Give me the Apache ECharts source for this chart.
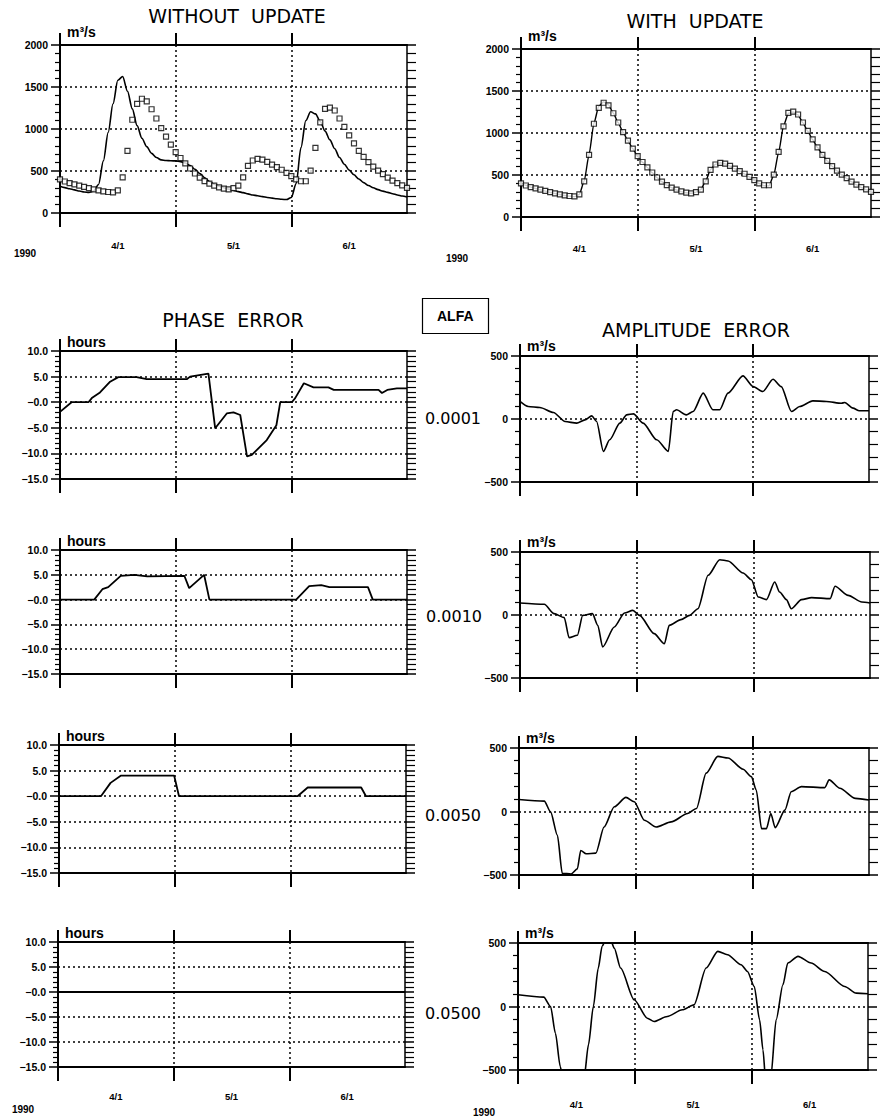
<!DOCTYPE html>
<html><head><meta charset="utf-8">
<script src="https://cdn.jsdelivr.net/npm/echarts@6/dist/echarts.min.js"></script>
<style>html,body{margin:0;padding:0;background:#fff}#c{width:882px;height:1118px}</style>
</head><body><div id="c"></div>
<script>
// ---------- DATA ----------
const monthLabels = ['4/1', '5/1', '6/1'];
const monthLabelPos = [12, 36, 60];         // centres of the month intervals (time index)
const monthBoundaries = [0, 24, 48];        // month starts (time index)
const yearLabel = '1990';
const alfaValues = ['0.0001', '0.0010', '0.0050', '0.0500'];

const flowTicks = [0, 500, 1000, 1500, 2000];
const flowTickLabels = ['0', '500', '1000', '1500', '2000'];
const phaseTicks = [10, 5, 0, -5, -10, -15];
const phaseTickLabels = ['10.0', '5.0', '\u22120.0', '\u22125.0', '\u221210.0', '\u221215.0'];
const ampTicks = [500, 0, -500];
const ampTickLabels = ['500', '0', '\u2212500'];

// observed discharge (squares), one value per time step 0..72
const observed = [400,375,355,340,325,310,295,282,270,258,250,245,270,425,740,1110,1300,1360,1330,1235,
  1125,1010,910,815,725,655,590,530,470,420,380,350,325,305,290,282,295,325,425,560,
  625,645,635,608,575,545,515,478,440,400,378,378,505,775,1080,1240,1255,1220,1125,1025,
  925,830,740,668,605,552,505,462,422,385,355,330,300];
// simulation without updating
const simulated = [318,302,288,275,262,250,245,262,340,620,960,1300,1580,1625,1450,1240,1040,890,790,710,
  660,632,625,622,620,612,595,565,520,470,420,375,342,318,300,284,268,255,242,228,
  215,205,195,185,177,170,163,160,185,350,780,1100,1205,1180,1090,975,870,765,660,580,
  510,455,405,362,328,300,278,260,245,230,215,202,190];
// simulation with updating
const updated = [405,378,356,340,324,308,293,280,268,256,248,243,268,428,745,1115,1320,1370,1335,1235,
  1122,1010,908,812,722,652,588,528,468,420,380,348,322,302,288,282,296,328,430,565,
  628,645,633,605,574,544,512,476,438,398,372,370,500,770,1085,1235,1250,1215,1120,1020,
  920,828,740,668,604,550,502,460,420,384,352,326,298];

// phase error [time index, hours]
const phase1 = [[0,-1.9],[2.4,0],[5.9,0],[6.6,0.8],[8.3,1.9],[10.4,4.0],[12.1,4.9],[15.9,4.9],[18,4.5],[26.3,4.5],
  [27,5.0],[30.8,5.6],[32.2,-5.1],[34.6,-2.2],[36,-2.0],[37.4,-2.5],[38.8,-10.6],[39.8,-10.3],[42.9,-7.4],[44.9,-4.5],
  [45.7,0],[48.1,0],[48.8,0.8],[50.6,3.7],[52.6,2.9],[55.7,2.9],[56.8,2.4],[66.1,2.4],[66.8,1.8],[67.9,2.4],[69.9,2.7],[72,2.7]];
const phase2 = [[0,0],[7.1,0],[8.8,2.1],[10,2.5],[12.6,4.8],[15.4,5.0],[18.1,4.7],[25.8,4.8],[26.8,2.3],[29.9,5.0],
  [31,0],[49,0],[51.7,2.7],[54.2,2.9],[55.9,2.5],[63.9,2.5],[64.9,0],[72,0]];
const phase3 = [[0,0],[8.7,0],[10.7,2.6],[12.8,4.0],[23.9,4.0],[24.9,0],[49.5,0],[51.6,1.7],[62.7,1.7],[63.7,0],[72,0]];
const phase4 = [[0,0],[72,0]];

// amplitude error [time index, m3/s]
const amp1 = [[0,139],[1.7,99],[4.1,91],[6.9,51],[9.3,-20],[11.7,-33],[13.4,-7],[14.8,25],[15.8,-20],[17.2,-257],
  [18.5,-165],[20.6,-33],[22,33],[23.4,41],[25.4,-33],[28.2,-165],[30.6,-257],[31.6,59],[32.3,73],[34.3,33],
  [35.7,59],[37.8,205],[39.8,73],[41.2,73],[42.9,205],[46,342],[48.1,257],[50.1,218],[52.2,315],[53.9,257],
  [56,59],[57.7,99],[60.4,144],[63.2,139],[66.3,125],[67,131],[68.7,86],[70,65],[72,65]];
const amp2 = [[0,95],[5,85],[7,11],[9.1,-21],[10.1,-180],[11.8,-161],[12.9,-3],[14.9,11],[16,-82],[17,-254],
  [19.4,-95],[21.5,16],[23.2,37],[24.6,-3],[27.6,-148],[29.7,-228],[30.7,-82],[33.1,-37],[34.9,-3],[36.6,50],
  [38.7,315],[41.1,439],[42.8,429],[45.9,333],[47.6,280],[49,143],[50.7,122],[52.4,262],[53.4,183],[54.8,122],
  [55.8,50],[57.9,122],[60,138],[63.8,130],[64.8,228],[67.5,156],[70.3,103],[72,95]];
const amp3 = [[0,95],[5.2,82],[6.5,-3],[7.9,-188],[8.9,-487],[10.7,-492],[12,-452],[12.7,-307],[13.8,-333],[15.8,-328],
  [17.5,-122],[19.6,37],[22,111],[23.7,77],[25.8,-69],[28.2,-122],[31.3,-82],[34.7,-16],[36.5,24],[38.5,302],
  [40.9,434],[43,421],[46.1,333],[47.8,275],[48.8,169],[49.9,-135],[50.9,-135],[51.8,-16],[52.7,-127],[54.7,11],
  [56,156],[58.1,196],[62.9,188],[63.8,249],[66,183],[69.2,103],[72,90]];
const amp4 = [[0,92],[5.3,74],[6.7,0],[7.7,-211],[8.7,-474],[9.2,-560],[13.6,-560],[14.5,-300],[15.5,0],[16.5,300],
  [17.3,474],[18,520],[19,530],[19.8,460],[21.1,303],[23.9,53],[26.6,-92],[28,-118],[30.7,-79],[33.8,-26],
  [36.2,13],[38.7,303],[41.1,434],[43.1,408],[45.9,329],[47.2,276],[48.6,158],[49.7,-105],[50.4,-342],[50.9,-560],
  [52,-560],[53.1,-105],[54.5,171],[55.5,342],[57.6,395],[60.3,342],[63.1,276],[67.2,158],[69.6,105],[72,100]];

// ---------- LAYOUT ----------
const FONT = 'Liberation Sans';
const TFONT = 'DejaVu Sans';
const panels = [
  {kind:'flow',  grid:{left:60,  top:45,  width:347, height:168}, months:true, monthMargin:27},
  {kind:'flow',  grid:{left:521, top:49,  width:350, height:168}, months:true, monthMargin:26},
  {kind:'phase', grid:{left:60,  top:351, width:347, height:128}},
  {kind:'amp',   grid:{left:520, top:356, width:349, height:126}},
  {kind:'phase', grid:{left:60,  top:550, width:347, height:124}},
  {kind:'amp',   grid:{left:520, top:552, width:350, height:126}},
  {kind:'phase', grid:{left:59,  top:745, width:347, height:128}},
  {kind:'amp',   grid:{left:519, top:748, width:350, height:127}},
  {kind:'phase', grid:{left:58,  top:942, width:347, height:125}, months:true, monthMargin:24},
  {kind:'amp',   grid:{left:518, top:943, width:350, height:127}, months:true, monthMargin:29}
];
const specs = {
  flow:  {min:0, max:2000, interval:500, ticks:flowTicks, labels:flowTickLabels, unit:'m\u00b3/s', gap:13},
  phase: {min:-15, max:10, interval:5, ticks:phaseTicks, labels:phaseTickLabels, unit:'hours', gap:9},
  amp:   {min:-500, max:500, interval:500, ticks:ampTicks, labels:ampTickLabels, unit:'m\u00b3/s', gap:10}
};
const dotted = {color:'#000', width:1.5, type:[2,3]};
const black = '#000';

const grid = [], xAxis = [], yAxis = [];
panels.forEach((p, gi) => {
  grid.push(p.grid);
  const s = specs[p.kind];
  xAxis.push({
    type:'value', gridIndex:gi, position:'bottom', min:0, max:72, interval:24,
    axisLine:{show:true, onZero:false, lineStyle:{color:black, width:2}},
    axisTick:{show:true, customValues:monthBoundaries, length:14, lineStyle:{color:black, width:2}},
    axisLabel:{show:!!p.months, customValues:monthLabelPos, margin:p.monthMargin || 20,
      formatter:v => monthLabels[monthLabelPos.indexOf(v)], fontSize:9.5, fontWeight:'bold', color:black, fontFamily:FONT},
    splitLine:{show:true, lineStyle:dotted}
  });
  xAxis.push({
    type:'value', gridIndex:gi, position:'top', min:0, max:72, interval:24,
    axisLine:{show:true, onZero:false, lineStyle:{color:black, width:2}},
    axisTick:{show:true, customValues:monthBoundaries, length:12, lineStyle:{color:black, width:2}},
    axisLabel:{show:false}, splitLine:{show:false}
  });
  yAxis.push({
    type:'value', gridIndex:gi, position:'left', min:s.min, max:s.max, interval:s.interval,
    axisLine:{show:true, onZero:false, lineStyle:{color:black, width:2}},
    axisTick:{show:true, length:9, lineStyle:{color:black, width:1.5}},
    minorTick:{show:true, splitNumber:5, length:5, lineStyle:{color:black, width:1.2}},
    axisLabel:{formatter:v => s.labels[s.ticks.indexOf(v)], fontSize:10.5, fontWeight:'bold', color:black, margin:12, fontFamily:FONT},
    splitLine:{show:true, lineStyle:dotted},
    name:s.unit, nameLocation:'end', nameGap:s.gap,
    nameTextStyle:{align:'left', verticalAlign:'middle', padding:[0,0,0,7], fontSize:14, fontWeight:'bold', color:black, fontFamily:FONT}
  });
  yAxis.push({
    type:'value', gridIndex:gi, position:'right', min:s.min, max:s.max, interval:s.interval,
    axisLine:{show:true, onZero:false, lineStyle:{color:black, width:1.5}},
    axisTick:{show:true, length:9, lineStyle:{color:black, width:1.5}},
    minorTick:{show:true, splitNumber:5, length:9, lineStyle:{color:black, width:1.2}},
    axisLabel:{show:false}, splitLine:{show:false}
  });
});

const lineSeries = (gi, data, name, width, smooth) => ({
  type:'line', name, xAxisIndex:2*gi, yAxisIndex:2*gi, data, showSymbol:false, symbol:'none',
  smooth:smooth || false, smoothMonotone:'x',
  lineStyle:{color:black, width:width || 1.6}, clip:true, animation:false, z:3
});
const squares = (gi, values, name) => ({
  type:'scatter', name, xAxisIndex:2*gi, yAxisIndex:2*gi, data:values.map((v, i) => [i, v]),
  symbol:'rect', symbolSize:5, itemStyle:{color:'#fff', borderColor:black, borderWidth:1.2}, animation:false, z:4
});
const series = [
  lineSeries(0, simulated.map((v, i) => [i, v]), 'without update', 1.6, 0.3),
  squares(0, observed, 'observed'),
  lineSeries(1, updated.map((v, i) => [i, v]), 'with update', 1.4, 0.2),
  squares(1, observed, 'observed'),
  lineSeries(2, phase1, 'phase 0.0001', 1.8), lineSeries(3, amp1, 'amp 0.0001', 1.6, 0.25),
  lineSeries(4, phase2, 'phase 0.0010', 1.8), lineSeries(5, amp2, 'amp 0.0010', 1.6, 0.25),
  lineSeries(6, phase3, 'phase 0.0050', 1.8), lineSeries(7, amp3, 'amp 0.0050', 1.6, 0.25),
  lineSeries(8, phase4, 'phase 0.0500', 1.8), lineSeries(9, amp4, 'amp 0.0500', 1.6, 0.25)
];

const T = (text, left, top, size, weight, family, extra) => Object.assign({
  text, left, top, padding:0, textAlign:'center',
  textStyle:{fontSize:size, fontWeight:weight, color:black, fontFamily:family}
}, extra || {});
const title = [
  T('WITHOUT\u00a0\u00a0UPDATE', 237, 6, 19, 'normal', TFONT),
  T('WITH\u00a0\u00a0UPDATE', 695, 11, 19, 'normal', TFONT),
  T('PHASE\u00a0\u00a0ERROR', 233, 310, 19, 'normal', TFONT),
  T('AMPLITUDE\u00a0\u00a0ERROR', 696, 320, 19, 'normal', TFONT),
  {text:'ALFA', left:422, top:298, padding:[11,15], borderWidth:1.2, borderColor:black,
   textStyle:{fontSize:14, fontWeight:'bold', color:black, fontFamily:FONT}},
  T(alfaValues[0], 453, 410, 16, 'normal', TFONT),
  T(alfaValues[1], 454, 608, 16, 'normal', TFONT),
  T(alfaValues[2], 453, 807, 16, 'normal', TFONT),
  T(alfaValues[3], 453, 1005, 16, 'normal', TFONT),
  T(yearLabel, 25, 248, 10, 'bold', FONT),
  T(yearLabel, 457, 253, 10, 'bold', FONT),
  T(yearLabel, 23, 1104, 10, 'bold', FONT),
  T(yearLabel, 484, 1107, 10, 'bold', FONT)
];

const chart = echarts.init(document.getElementById('c'), null, {renderer:'svg', width:882, height:1118});
chart.setOption({backgroundColor:'#fff', animation:false, title, grid, xAxis, yAxis, series});
</script>
</body></html>
